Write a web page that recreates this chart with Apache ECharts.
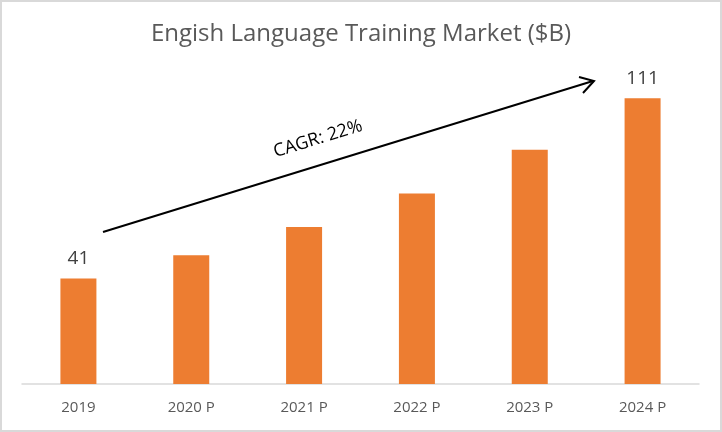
<!DOCTYPE html>
<html><head><meta charset="utf-8">
<script src="https://cdn.jsdelivr.net/npm/echarts@6/dist/echarts.min.js"></script>
<style>html,body{margin:0;padding:0;background:#fff}#c{width:722px;height:432px}</style>
</head><body><div id="c"></div>
<script>
const categories = ['2019', '2020 P', '2021 P', '2022 P', '2023 P', '2024 P'];
const values = [41, 50, 61, 74, 91, 111];
const labeledIndices = [0, 5];
const titleText = 'Engish Language Training Market ($B)';
const cagrText = 'CAGR: 22%';

const chart = echarts.init(document.getElementById('c'), null, {renderer: 'canvas'});
const fontFamily = '"Open Sans", "Liberation Sans", sans-serif';
chart.setOption({
  animation: false,
  backgroundColor: '#fff',
  title: {
    text: titleText, left: 'center', top: 17,
    textStyle: {fontFamily, fontSize: 24, fontWeight: 'normal', color: '#595959'}
  },
  grid: {left: 22, right: 23, top: 75, bottom: 48},
  xAxis: {
    type: 'category', data: categories,
    axisLine: {lineStyle: {color: '#d9d9d9', width: 1.5}},
    axisTick: {show: false},
    axisLabel: {fontFamily, fontSize: 15, color: '#595959', margin: 16}
  },
  yAxis: {type: 'value', min: 0, max: 120, show: false, splitLine: {show: false}},
  series: [{
    type: 'bar', barWidth: 36,
    itemStyle: {color: '#ED7D31'},
    data: values.map((v, i) => ({
      value: v,
      label: {show: labeledIndices.includes(i), position: 'top', distance: 10,
        fontFamily, fontSize: 19, color: '#404040'}
    }))
  }],
  graphic: [
    {type: 'rect', shape: {x: 1, y: 1, width: 720, height: 430}, style: {fill: 'none', stroke: '#d9d9d9', lineWidth: 2}, silent: true},
    {type: 'line', shape: {x1: 103, y1: 232, x2: 593, y2: 81}, style: {stroke: '#000', lineWidth: 2}},
    {type: 'polyline', shape: {points: [[579, 77], [594, 81], [583, 93]]}, style: {stroke: '#000', lineWidth: 2, fill: 'none'}},
    {type: 'text', x: 318, y: 139, rotation: 17 * Math.PI / 180,
      style: {text: cagrText, fontFamily, fontSize: 18, fill: '#000', align: 'center', verticalAlign: 'middle'}}
  ]
});
</script></body></html>
